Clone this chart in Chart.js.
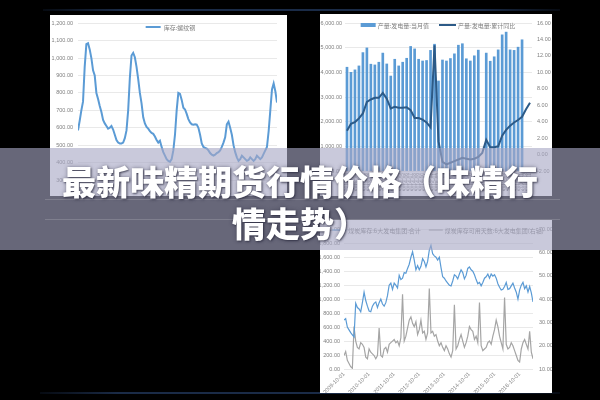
<!DOCTYPE html>
<html>
<head>
<meta charset="utf-8">
<script src="https://cdn.jsdelivr.net/npm/chart.js@4.4.0/dist/chart.umd.min.js"></script>
<style>
html,body{margin:0;padding:0;background:#000;width:600px;height:400px;overflow:hidden;}
.panel{position:absolute;background:#fff;overflow:hidden;}
.panel canvas{display:block;}
.edge{position:absolute;height:2px;background:linear-gradient(to right,rgba(20,34,58,0.3),#1a2b47 15%,#1a2b47 85%,rgba(20,34,58,0.3));}
#banner{position:absolute;left:0;top:148px;width:600px;height:102px;background:rgba(167,167,196,0.616);}
.bline{position:absolute;left:45px;width:515px;height:1px;background:rgba(255,255,255,0.16);}
#title{position:absolute;left:50px;top:160px;width:500px;text-align:center;color:#fff;
  font-family:"Noto Sans CJK SC","Noto Sans CJK JP",sans-serif;font-weight:900;font-size:34px;line-height:42px;
  text-shadow:1px 1px 2px rgba(40,40,60,0.7),0 0 4px rgba(40,40,60,0.45);}
</style>
</head>
<body>
<div class="edge" style="left:43px;top:9px;width:517px;"></div>
<div class="edge" style="left:40px;top:392px;width:520px;"></div>
<div class="panel" style="left:50px;top:15px;width:237px;height:181px;"><canvas id="c1" width="237" height="181"></canvas></div>
<div class="panel" style="left:320px;top:14px;width:232px;height:182px;"><canvas id="c2" width="232" height="182"></canvas></div>
<div class="panel" style="left:320px;top:220px;width:232px;height:173px;"><canvas id="c3" width="232" height="173"></canvas></div>
<div id="banner"></div>
<div class="bline" style="top:199px;"></div>
<div class="bline" style="top:219px;"></div>
<div id="title">最新味精期货行情价格（味精行情走势）</div>

<script>
// ---------- DATA ----------
// Chart 1: 库存:螺纹钢 (weekly, x labels hidden in picture)
const rebarLabel = '库存:螺纹钢';
const rebarStock = [585,640,700,750,950,1080,1085,1050,1000,930,900,800,765,725,690,645,625,610,595,600,
  610,590,560,530,515,510,510,515,540,585,700,885,1015,1030,1005,950,880,800,740,660,
  625,605,595,580,570,565,550,530,515,525,490,460,440,420,410,405,420,470,560,700,
  800,795,760,715,705,680,650,630,620,618,620,618,600,560,510,490,485,480,470,455,
  445,440,445,455,460,470,490,515,545,620,635,600,560,500,460,430,410,420,440,430,
  420,410,415,430,420,410,420,440,430,420,430,450,470,490,580,700,820,855,810,745];

// Chart 2: 产量:发电量
const powerLabels = ['2013-03','2013-04','2013-05','2013-06','2013-07','2013-08','2013-09','2013-10','2013-11','2013-12',
  '2014-01','2014-02','2014-03','2014-04','2014-05','2014-06','2014-07','2014-08','2014-09','2014-10','2014-11','2014-12',
  '2015-01','2015-02','2015-03','2015-04','2015-05','2015-06','2015-07','2015-08','2015-09','2015-10','2015-11','2015-12',
  '2016-01','2016-02','2016-03','2016-04','2016-05','2016-06','2016-07','2016-08','2016-09','2016-10','2016-11','2016-12','2017-01'];
const powerMonthLabel = '产量:发电量:当月值';
const powerMonthly = [4207,4000,4100,4260,4800,4990,4330,4300,4410,4780,4340,3850,4530,4260,4410,4570,5050,4950,4530,4460,
  4480,4890,5140,3650,4500,4460,4560,4750,5100,5160,4550,4460,4670,4900,null,4780,4450,4630,4910,5520,
  5630,4910,4890,5020,5320,null,null];
const powerYoYLabel = '产量:发电量:累计同比';
const powerYoY = [2.9,3.75,3.95,4.4,5.0,6.4,6.7,6.9,6.9,7.5,6.8,5.6,5.8,5.7,5.7,5.75,5.4,4.45,4.45,4.25,
  3.9,3.3,13.3,1.6,-0.9,-1.2,-1.0,-0.8,-0.6,-0.4,-0.5,-0.6,-0.5,-0.3,0.2,1.8,0.9,0.9,1.0,2.3,
  3.0,3.5,3.9,4.2,4.6,5.5,6.3];

// Chart 3: 煤炭库存 (x tick labels every 15 samples)
const coalTickLabels = ['2009-10-01','2010-10-01','2011-10-01','2012-10-01','2013-10-01','2014-10-01','2015-10-01','2016-10-01'];
const coalTickEvery = 15;
const coalStockLabel = '煤炭库存:6大发电集团:合计';
const coalStock = [700,720,600,560,520,490,460,940,880,860,820,950,1100,980,900,830,820,900,940,960,
  880,950,1000,930,900,950,1050,1200,1230,1140,1230,1200,1160,1340,1280,1300,1380,1370,1440,1500,
  1600,1680,1560,1420,1480,1420,1470,1580,1540,1460,1540,1700,1770,1650,1620,1600,1560,1600,1450,1320,
  1300,1260,1230,1200,1190,1260,1350,1330,1290,1360,1420,1380,1290,1340,1440,1460,1420,1400,1350,1280,
  1220,1240,1190,1240,1300,1320,1360,1300,1360,1330,1350,1300,1220,1170,1130,1140,1180,1240,1140,1150,
  1190,1230,1160,1100,1000,1130,1200,1240,1150,1190,1100,1180,1090,960];
const coalDaysLabel = '煤炭库存可用天数:6大发电集团(右轴)';
const coalDays = [15.8,17.5,13.7,12.4,11.0,10.3,28.2,22.0,19.3,18.6,21.3,20.6,19.3,15.1,14.4,18.6,17.2,16.5,15.8,14.4,
  15.8,27.6,15.8,15.1,18.6,19.3,17.2,20.6,21.3,22.0,22.7,21.3,22.0,20.0,23.4,42.1,22.0,24.1,27.6,31.0,
  32.4,29.6,28.2,30.3,24.8,26.9,31.0,25.5,26.2,22.7,25.5,44.6,25.5,26.2,24.1,24.8,22.0,20.0,21.3,19.3,
  17.9,20.0,18.6,16.5,15.1,17.9,37.6,18.6,20.0,22.7,24.8,22.0,19.3,21.3,24.1,28.2,26.9,26.2,22.7,24.1,
  21.3,38.6,20.0,17.9,18.6,19.3,21.3,22.0,20.6,24.1,26.9,31.0,28.2,24.1,21.3,18.6,40.7,20.6,18.6,19.3,
  21.3,20.0,17.9,15.8,13.7,13.0,18.6,21.3,22.7,20.6,18.6,26.2,17.2,14.4];

// ---------- STYLE ----------
const BLUE = '#5b9bd5', DARKBLUE = '#2c5a87', GREY = '#a5a5a5';
const tickFont = { family: 'Liberation Sans', size: 5.5 };
const tickColor = '#7f7f7f';
const gridColor = '#e3e3e3';
const fmt2 = v => Number(v).toLocaleString('en-US', { minimumFractionDigits: 2, maximumFractionDigits: 2 });

// Excel-like legend drawn inside the plot area
const excelLegend = {
  id: 'excelLegend',
  afterDraw(chart) {
    const cfg = chart.config._config.excelLegendCfg;
    if (!cfg) return;
    const ctx = chart.ctx;
    ctx.save();
    ctx.font = cfg.fontSize + 'px "Noto Sans CJK SC", sans-serif';
    const widths = cfg.items.map(it => it.sample + cfg.gap + ctx.measureText(chart.data.datasets[it.dataset].label).width);
    const total = widths.reduce((a, b) => a + b, 0) + cfg.itemGap * (widths.length - 1);
    let x = chart.width / 2 - total / 2 + (cfg.shift || 0);
    const y = cfg.y;
    cfg.items.forEach((it, i) => {
      const ds = chart.data.datasets[it.dataset];
      if (it.kind === 'box') {
        ctx.fillStyle = ds.backgroundColor;
        ctx.fillRect(x, y - it.boxH / 2, it.sample, it.boxH);
      } else {
        ctx.strokeStyle = ds.borderColor;
        ctx.lineWidth = it.lineWidth;
        ctx.beginPath(); ctx.moveTo(x, y); ctx.lineTo(x + it.sample, y); ctx.stroke();
      }
      ctx.fillStyle = cfg.color;
      ctx.textBaseline = 'middle';
      ctx.textAlign = 'left';
      ctx.fillText(ds.label, x + it.sample + cfg.gap, y + 0.5);
      x += widths[i] + cfg.itemGap;
    });
    ctx.restore();
  }
};

function yAxis(min, max, step, pos, width, pad, grid) {
  return {
    position: pos, min: min, max: max,
    ticks: { stepSize: step, font: tickFont, color: tickColor, padding: pad, callback: fmt2 },
    grid: { display: grid, color: gridColor, lineWidth: 0.8, drawTicks: false },
    border: { display: false },
    afterFit: s => { s.width = width; }
  };
}

// ---------- CHART 1 ----------
new Chart(document.getElementById('c1'), {
  type: 'line',
  data: { datasets: [{ label: rebarLabel, data: rebarStock.map((v, i) => ({ x: i, y: v })),
    borderColor: BLUE, backgroundColor: BLUE, borderWidth: 2, pointRadius: 0, tension: 0 }] },
  excelLegendCfg: { y: 12, fontSize: 6, gap: 3, itemGap: 10, color: '#7f7f7f', shift: 2,
    items: [{ dataset: 0, kind: 'line', sample: 15, lineWidth: 2 }] },
  options: {
    responsive: false, animation: false, devicePixelRatio: 1,
    layout: { padding: { top: 6, bottom: 16, left: 0, right: 10 } },
    plugins: { legend: { display: false }, tooltip: { enabled: false } },
    scales: {
      x: { type: 'linear', min: 0, max: rebarStock.length - 1, display: false },
      y: yAxis(300, 1200, 100, 'left', 28, 5, true)
    }
  },
  plugins: [excelLegend]
});

// ---------- CHART 2 ----------
new Chart(document.getElementById('c2'), {
  type: 'bar',
  data: {
    labels: powerLabels,
    datasets: [
      { type: 'bar', label: powerMonthLabel, data: powerMonthly, backgroundColor: BLUE, borderWidth: 0,
        barThickness: 2, yAxisID: 'y', order: 2 },
      { type: 'line', label: powerYoYLabel, data: powerYoY, borderColor: DARKBLUE, backgroundColor: DARKBLUE,
        borderWidth: 2, pointRadius: 0, tension: 0, spanGaps: true, yAxisID: 'y1', order: 1 }
    ]
  },
  excelLegendCfg: { y: 11, fontSize: 6, gap: 2, itemGap: 10, color: '#7f7f7f', shift: 2,
    items: [{ dataset: 0, kind: 'box', sample: 15, boxH: 4 }, { dataset: 1, kind: 'line', sample: 17, lineWidth: 2 }] },
  options: {
    responsive: false, animation: false, devicePixelRatio: 1,
    layout: { padding: { top: 9, bottom: 0, left: 0, right: 0 } },
    plugins: { legend: { display: false }, tooltip: { enabled: false } },
    scales: {
      x: { ticks: { font: { family: 'Liberation Sans', size: 5 }, color: tickColor, minRotation: 90, maxRotation: 90, autoSkip: false, padding: 2 },
           grid: { display: false, drawTicks: false }, border: { display: false }, afterFit: s => { s.height = 25; } },
      y: yAxis(0, 6000, 1000, 'left', 25, 3, true),
      y1: yAxis(-2, 16, 2, 'right', 20, 5, false)
    }
  },
  plugins: [excelLegend]
});

// ---------- CHART 3 ----------
new Chart(document.getElementById('c3'), {
  type: 'line',
  data: {
    datasets: [
      { label: coalStockLabel, data: coalStock.map((v, i) => ({ x: i, y: v })), borderColor: BLUE, backgroundColor: BLUE,
        borderWidth: 1.2, pointRadius: 0, tension: 0, yAxisID: 'y' },
      { label: coalDaysLabel, data: coalDays.map((v, i) => ({ x: i, y: v })), borderColor: GREY, backgroundColor: GREY,
        borderWidth: 1.2, pointRadius: 0, tension: 0, yAxisID: 'y1' }
    ]
  },
  excelLegendCfg: { y: 10, fontSize: 6, gap: 2, itemGap: 8, color: '#7f7f7f', shift: 2,
    items: [{ dataset: 0, kind: 'line', sample: 14, lineWidth: 1.2 }, { dataset: 1, kind: 'line', sample: 14, lineWidth: 1.2 }] },
  options: {
    responsive: false, animation: false, devicePixelRatio: 1,
    layout: { padding: { top: 4, bottom: 0, left: 0, right: 0 } },
    plugins: { legend: { display: false }, tooltip: { enabled: false } },
    scales: {
      x: { type: 'linear', min: 0, max: coalStock.length - 1,
           afterBuildTicks: s => { s.ticks = coalTickLabels.map((_, j) => ({ value: j * coalTickEvery })); },
           ticks: { font: tickFont, color: tickColor, minRotation: 45, maxRotation: 45, autoSkip: false, padding: 2,
                    callback: v => coalTickLabels[Math.round(v / coalTickEvery)] || '' },
           grid: { display: false, drawTicks: false }, border: { display: false }, afterFit: s => { s.height = 24; } },
      y: yAxis(0, 2000, 200, 'left', 24, 4, true),
      y1: yAxis(10, 70, 10, 'right', 19, 6, false)
    }
  },
  plugins: [excelLegend]
});
</script>
</body>
</html>
